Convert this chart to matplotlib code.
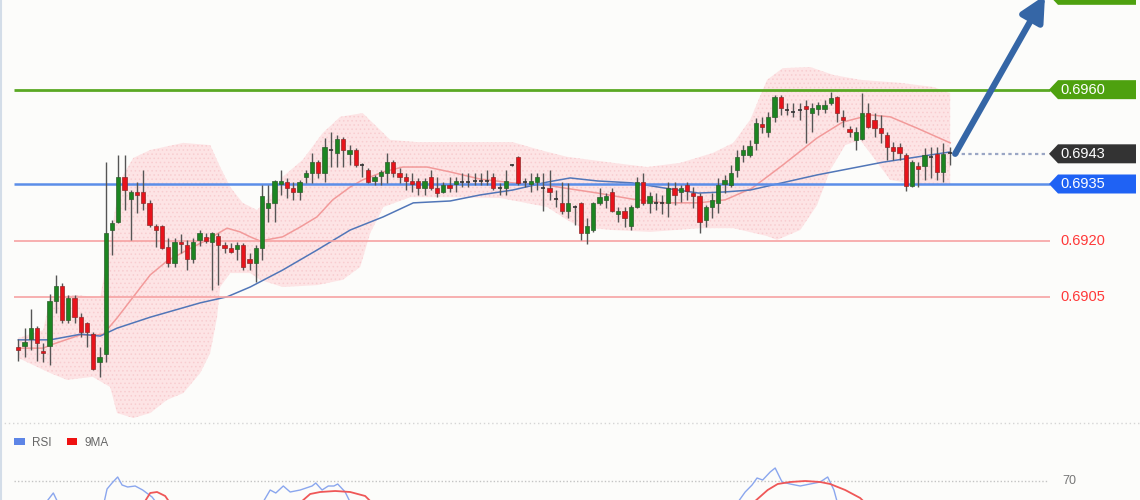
import matplotlib
matplotlib.use("Agg")
import matplotlib.pyplot as plt
import matplotlib.transforms as mtransforms
from matplotlib.patches import Polygon, Patch
from matplotlib.lines import Line2D
import numpy as np

# candles (price)
opens = [0.68918, 0.68921, 0.68939, 0.68968, 0.68907, 0.68921, 0.69040, 0.69080, 0.68990, 0.69048,
         0.68998, 0.68982, 0.68953, 0.68878, 0.68900, 0.69228, 0.69249, 0.69369, 0.69310, 0.69329,
         0.69329, 0.69300, 0.69239, 0.69239, 0.69183, 0.69140, 0.69196, 0.69188, 0.69151, 0.69202,
         0.69210, 0.69196, 0.69212, 0.69188, 0.69180, 0.69178, 0.69188, 0.69151, 0.69140, 0.69180,
         0.69286, 0.69300, 0.69350, 0.69355, 0.69339, 0.69329, 0.69369, 0.69379, 0.69408, 0.69379,
         0.69440, 0.69432, 0.69469, 0.69429, 0.69440, 0.69400, 0.69387, 0.69358, 0.69371, 0.69379,
         0.69408, 0.69379, 0.69369, 0.69358, 0.69358, 0.69339, 0.69369, 0.69339, 0.69329, 0.69347,
         0.69350, 0.69355, 0.69355, 0.69358, 0.69358, 0.69358, 0.69369, 0.69339, 0.69339, 0.69400,
         0.69422, 0.69355, 0.69350, 0.69355, 0.69339, 0.69339, 0.69310, 0.69300, 0.69279, 0.69289,
         0.69300, 0.69220, 0.69228, 0.69300, 0.69308, 0.69329, 0.69271, 0.69279, 0.69239, 0.69289,
         0.69355, 0.69300, 0.69300, 0.69300, 0.69300, 0.69339, 0.69329, 0.69347, 0.69326, 0.69318,
         0.69255, 0.69289, 0.69300, 0.69350, 0.69347, 0.69387, 0.69427, 0.69427, 0.69459, 0.69509,
         0.69488, 0.69527, 0.69581, 0.69546, 0.69541, 0.69546, 0.69557, 0.69538, 0.69549, 0.69549,
         0.69565, 0.69581, 0.69527, 0.69496, 0.69467, 0.69469, 0.69538, 0.69520, 0.69498, 0.69480,
         0.69448, 0.69448, 0.69427, 0.69345, 0.69398, 0.69398, 0.69422, 0.69430, 0.69382, 0.69432]
highs = [0.68939, 0.68968, 0.69019, 0.68973, 0.68929, 0.69058, 0.69109, 0.69088, 0.69056, 0.69056,
         0.69008, 0.68985, 0.68958, 0.68918, 0.69408, 0.69255, 0.69427, 0.69427, 0.69334, 0.69355,
         0.69387, 0.69308, 0.69244, 0.69241, 0.69207, 0.69207, 0.69217, 0.69202, 0.69207, 0.69228,
         0.69220, 0.69223, 0.69220, 0.69196, 0.69194, 0.69196, 0.69194, 0.69167, 0.69188, 0.69347,
         0.69347, 0.69361, 0.69387, 0.69366, 0.69355, 0.69361, 0.69387, 0.69432, 0.69414, 0.69472,
         0.69488, 0.69480, 0.69475, 0.69453, 0.69445, 0.69406, 0.69392, 0.69374, 0.69387, 0.69432,
         0.69414, 0.69392, 0.69379, 0.69379, 0.69366, 0.69366, 0.69387, 0.69369, 0.69355, 0.69369,
         0.69369, 0.69379, 0.69379, 0.69379, 0.69379, 0.69387, 0.69379, 0.69353, 0.69387, 0.69402,
         0.69424, 0.69366, 0.69379, 0.69379, 0.69379, 0.69387, 0.69334, 0.69355, 0.69353, 0.69294,
         0.69302, 0.69260, 0.69302, 0.69339, 0.69326, 0.69339, 0.69289, 0.69289, 0.69294, 0.69369,
         0.69379, 0.69329, 0.69326, 0.69321, 0.69355, 0.69355, 0.69347, 0.69355, 0.69342, 0.69326,
         0.69294, 0.69326, 0.69366, 0.69374, 0.69400, 0.69440, 0.69453, 0.69467, 0.69525, 0.69527,
         0.69541, 0.69586, 0.69586, 0.69565, 0.69565, 0.69565, 0.69573, 0.69565, 0.69568, 0.69573,
         0.69594, 0.69584, 0.69546, 0.69504, 0.69501, 0.69591, 0.69565, 0.69538, 0.69533, 0.69488,
         0.69461, 0.69459, 0.69432, 0.69414, 0.69408, 0.69445, 0.69448, 0.69448, 0.69459, 0.69448]
lows = [0.68881, 0.68892, 0.68910, 0.68881, 0.68878, 0.68870, 0.69008, 0.68982, 0.68982, 0.68982,
        0.68945, 0.68918, 0.68858, 0.68839, 0.68878, 0.69162, 0.69247, 0.69281, 0.69202, 0.69273,
        0.69281, 0.69236, 0.69183, 0.69178, 0.69130, 0.69130, 0.69167, 0.69122, 0.69140, 0.69186,
        0.69194, 0.69069, 0.69082, 0.69167, 0.69167, 0.69149, 0.69122, 0.69122, 0.69090, 0.69149,
        0.69249, 0.69249, 0.69321, 0.69313, 0.69308, 0.69308, 0.69353, 0.69353, 0.69366, 0.69355,
        0.69395, 0.69395, 0.69395, 0.69400, 0.69395, 0.69369, 0.69353, 0.69347, 0.69347, 0.69353,
        0.69369, 0.69353, 0.69334, 0.69329, 0.69321, 0.69321, 0.69334, 0.69315, 0.69326, 0.69329,
        0.69329, 0.69342, 0.69342, 0.69347, 0.69347, 0.69347, 0.69334, 0.69321, 0.69321, 0.69397,
        0.69347, 0.69342, 0.69329, 0.69334, 0.69279, 0.69308, 0.69289, 0.69271, 0.69260, 0.69241,
        0.69202, 0.69191, 0.69223, 0.69294, 0.69286, 0.69276, 0.69249, 0.69236, 0.69228, 0.69286,
        0.69294, 0.69273, 0.69281, 0.69271, 0.69262, 0.69294, 0.69302, 0.69308, 0.69286, 0.69220,
        0.69236, 0.69260, 0.69273, 0.69326, 0.69342, 0.69369, 0.69408, 0.69422, 0.69440, 0.69485,
        0.69474, 0.69514, 0.69533, 0.69533, 0.69527, 0.69520, 0.69459, 0.69488, 0.69533, 0.69538,
        0.69560, 0.69514, 0.69501, 0.69474, 0.69440, 0.69467, 0.69498, 0.69474, 0.69459, 0.69414,
        0.69414, 0.69414, 0.69331, 0.69342, 0.69342, 0.69361, 0.69366, 0.69361, 0.69355, 0.69400]
closes = [0.68910, 0.68931, 0.68968, 0.68928, 0.68902, 0.69040, 0.69080, 0.68990, 0.69048, 0.68998,
          0.68958, 0.68958, 0.68860, 0.68892, 0.69220, 0.69247, 0.69369, 0.69334, 0.69329, 0.69321,
          0.69300, 0.69241, 0.69228, 0.69180, 0.69140, 0.69196, 0.69191, 0.69151, 0.69196, 0.69220,
          0.69199, 0.69220, 0.69188, 0.69180, 0.69170, 0.69188, 0.69130, 0.69140, 0.69180, 0.69318,
          0.69300, 0.69358, 0.69358, 0.69339, 0.69329, 0.69355, 0.69379, 0.69408, 0.69379, 0.69448,
          0.69437, 0.69469, 0.69440, 0.69440, 0.69400, 0.69397, 0.69355, 0.69369, 0.69382, 0.69408,
          0.69379, 0.69369, 0.69358, 0.69350, 0.69339, 0.69358, 0.69339, 0.69326, 0.69347, 0.69339,
          0.69358, 0.69353, 0.69353, 0.69356, 0.69356, 0.69356, 0.69339, 0.69337, 0.69358, 0.69398,
          0.69353, 0.69353, 0.69358, 0.69369, 0.69337, 0.69329, 0.69308, 0.69279, 0.69300, 0.69287,
          0.69220, 0.69239, 0.69300, 0.69315, 0.69318, 0.69279, 0.69279, 0.69260, 0.69289, 0.69355,
          0.69300, 0.69318, 0.69298, 0.69298, 0.69339, 0.69321, 0.69339, 0.69331, 0.69318, 0.69249,
          0.69289, 0.69308, 0.69347, 0.69361, 0.69379, 0.69422, 0.69440, 0.69451, 0.69512, 0.69501,
          0.69527, 0.69581, 0.69552, 0.69544, 0.69538, 0.69544, 0.69549, 0.69552, 0.69560, 0.69560,
          0.69578, 0.69538, 0.69520, 0.69488, 0.69488, 0.69538, 0.69501, 0.69498, 0.69485, 0.69448,
          0.69437, 0.69432, 0.69345, 0.69408, 0.69390, 0.69427, 0.69420, 0.69382, 0.69430, 0.69430]

# indicator lines: (candle index, price)
ma_fast_idx = [0, 4.0, 5.1, 9.9, 12.6, 13.6, 15.8, 18.4, 21.1, 23.8, 27.0, 30.2, 33.4, 35.5, 37.1,
               38.7, 42.3, 45.1, 47.8, 50.3, 53.1, 55.1, 58.4, 61.5, 65.4, 69.1, 73.9, 79.1, 84.6,
               87.5, 92.7, 98.2, 103.5, 108.8, 113.1, 117.4, 122.3, 127.8, 131.9, 136.3, 139.5,
               143.8, 149.1]
ma_fast_val = [0.68915, 0.68915, 0.68923, 0.68950, 0.68950, 0.68952, 0.68995, 0.69051, 0.69109,
               0.69146, 0.69175, 0.69202, 0.69233, 0.69223, 0.69210, 0.69199, 0.69210, 0.69236,
               0.69263, 0.69308, 0.69342, 0.69361, 0.69382, 0.69395, 0.69395, 0.69382, 0.69363,
               0.69353, 0.69347, 0.69339, 0.69326, 0.69310, 0.69300, 0.69300, 0.69308, 0.69339,
               0.69400, 0.69472, 0.69514, 0.69533, 0.69528, 0.69498, 0.69459]
ma_slow_idx = [0, 5.1, 10.0, 13.1, 15.8, 21.1, 29.1, 33.4, 37.1, 42.3, 47.8, 53.1, 58.4, 63.2,
               69.1, 73.9, 79.1, 84.6, 88.3, 92.7, 98.2, 103.5, 108.8, 113.1, 117.1, 127.8, 138.4,
               149.1]
ma_slow_val = [0.68937, 0.68937, 0.68952, 0.68947, 0.68968, 0.68997, 0.69035, 0.69051, 0.69077,
               0.69122, 0.69175, 0.69228, 0.69263, 0.69300, 0.69305, 0.69321, 0.69334, 0.69355,
               0.69366, 0.69358, 0.69353, 0.69339, 0.69326, 0.69329, 0.69334, 0.69374, 0.69408,
               0.69435]
bb_up_idx = [0, 4.0, 5.1, 9.4, 13.1, 14.7, 16.3, 18.4, 21.1, 26.4, 30.7, 32.3, 33.9, 35.9, 38.2,
             39.8, 42.3, 45.5, 48.7, 51.5, 55.1, 57.4, 59.5, 63.8, 69.1, 79.1, 83.5, 87.8, 95.2,
             100.6, 105.9, 111.1, 114.4, 117.1, 119.8, 122.3, 126.7, 130.4, 134.7, 141.1, 146.4,
             149.1]
bb_up_val = [0.68942, 0.68963, 0.69051, 0.69056, 0.69048, 0.69202, 0.69361, 0.69419, 0.69440,
             0.69459, 0.69453, 0.69395, 0.69342, 0.69300, 0.69281, 0.69308, 0.69369, 0.69414,
             0.69485, 0.69528, 0.69538, 0.69501, 0.69467, 0.69461, 0.69461, 0.69461, 0.69440,
             0.69422, 0.69406, 0.69395, 0.69406, 0.69432, 0.69459, 0.69520, 0.69626, 0.69657,
             0.69660, 0.69639, 0.69626, 0.69618, 0.69607, 0.69591]
bb_lo_idx = [0, 5.1, 7.8, 11.9, 14.7, 15.8, 18.4, 21.1, 23.8, 26.4, 29.1, 30.7, 31.8, 32.3, 33.9,
             37.1, 38.7, 42.3, 47.8, 51.9, 54.7, 56.3, 58.4, 62.7, 69.1, 77.1, 84.6, 87.8, 89.9,
             95.2, 101.1, 109.1, 114.4, 119.8, 121.4, 125.1, 127.8, 129.9, 132.3, 134.7, 137.1,
             139.5, 144.3, 149.1]
bb_lo_val = [0.68889, 0.68849, 0.68831, 0.68839, 0.68812, 0.68743, 0.68730, 0.68743, 0.68778,
             0.68796, 0.68849, 0.68902, 0.68997, 0.69077, 0.69114, 0.69114, 0.69096, 0.69077,
             0.69082, 0.69096, 0.69130, 0.69220, 0.69289, 0.69315, 0.69315, 0.69313, 0.69289,
             0.69255, 0.69236, 0.69228, 0.69223, 0.69233, 0.69233, 0.69212, 0.69202, 0.69228,
             0.69294, 0.69387, 0.69453, 0.69467, 0.69414, 0.69361, 0.69347, 0.69347]

# RSI panel (only the top of it is visible), nan = gap
nan = float("nan")
rsi_idx = [4.0, 5.6, 6.6, nan,
           13.6, 14.2, 15.0, 15.9, 16.6, 17.5, 18.7, 19.9, 21.4, 22.5, nan,
           38.8, 40.3, 41.2, 42.4, 43.5, 45.1, 47.0, 47.6, 48.6, 49.6, 50.5, 51.1, 52.3, 53.4, nan,
           114.7, 116.3, 117.4, 118.2, 119.1, 120.3, 121.1, 122.2, 123.5, 125.1, 126.7, 128.3,
           129.5, 130.5, 131.2]
rsi_val = [55, 62.8, 55, nan,
           55, 65.2, 68.8, 72.4, 67.6, 66.4, 67.0, 64.6, 60.4, 55, nan,
           55, 64.6, 62.8, 67.0, 63.4, 64.6, 67.0, 68.8, 64.6, 67.0, 67.0, 68.2, 63.4, 55, nan,
           55, 63.4, 67.6, 71.8, 70.6, 75.4, 77.8, 69.4, 68.2, 67.0, 68.2, 69.4, 72.4, 64.6, 55]
rsi_ma_idx = [19.8, 21.1, 22.2, 23.5, 24.6, nan,
              44.5, 46.7, 48.3, 50.7, 53.1, 55.5, 57.1, nan,
              117.0, 119.9, 121.5, 123.5, 125.9, 128.3, 129.9, 132.3, 134.7, 136.0]
rsi_ma_val = [55, 62.8, 63.4, 61.0, 55, nan,
              55, 62.2, 63.4, 64.0, 63.4, 61.0, 55, nan,
              55, 64.6, 68.2, 69.4, 70.0, 69.4, 68.2, 64.6, 59.8, 55]

support_levels = [0.6935, 0.6920, 0.6905]
resistance_levels = [0.6960, 0.6985]
last_price = 0.6943

# ---- layout (pixel based, 1140x500) ----
W, H = 1140, 500
x0, step = 18.3, 6.25          # first candle centre and candle spacing in px
px_per_price = 1 / 0.0000265
y_top_price = 0.698376          # price at top edge of the image
main_h = 425

bg = "#fcfcfa"
plt.rcParams["font.family"] = ["Liberation Sans", "DejaVu Sans"]
plt.rcParams["hatch.linewidth"] = 0.6
plt.rcParams["hatch.color"] = "#f8c9cc"

fig = plt.figure(figsize=(W / 100, H / 100), dpi=100, facecolor=bg)
ax = fig.add_axes([0, (H - main_h) / H, 1, main_h / H])
ax.set_xlim(-x0 / step, (W - x0) / step)
ax.set_ylim(y_top_price - main_h / px_per_price, y_top_price)
ax.axis("off")

def px2idx(px):
    return (px - x0) / step

# bollinger band
band_x = list(bb_up_idx) + list(bb_lo_idx[::-1])
band_y = list(bb_up_val) + list(bb_lo_val[::-1])
ax.fill(band_x, band_y, facecolor="#fde4e5", edgecolor="#f8cdd0", hatch="....",
        linewidth=0, zorder=1)

# moving averages
ax.plot(ma_fast_idx, ma_fast_val, color="#f29a9a", lw=1.1, zorder=2)
ax.plot(ma_slow_idx, ma_slow_val, color="#5176b8", lw=1.1, zorder=2)

# level lines
lx0, lx1 = px2idx(14), px2idx(1050)
ax.hlines(resistance_levels[0], lx0, lx1, color="#5aa823", lw=2, zorder=2.5)
ax.hlines(support_levels[0], lx0, lx1, color="#5b8ee8", lw=1.8, zorder=2.5)
for lv in support_levels[1:]:
    ax.hlines(lv, lx0, lx1, color="#f6a3a3", lw=1.2, zorder=2.5)
n = len(closes)
ax.hlines(last_price, px2idx(955), px2idx(1048), color="#9aa6c4", lw=1.6,
          linestyles=(0, (1.5, 1.5)), zorder=2.5)

# candles
idx = np.arange(n)
ax.vlines(idx, lows, highs, color="#555555", lw=1, zorder=3)
for i in range(n):
    o, c = opens[i], closes[i]
    if abs(c - o) < 0.00003:
        ax.hlines(o, i - 0.32, i + 0.32, color="#333333", lw=1.2, zorder=4)
        continue
    col = "#1c8521" if c > o else "#e8131b"
    ec = "#2e5d2e" if c > o else "#8f2a2a"
    ax.bar(i, abs(c - o), bottom=min(o, c), width=0.66, color=col, edgecolor=ec,
           linewidth=0.5, zorder=4)

# price tags on the right
tr = mtransforms.blended_transform_factory(ax.transAxes, ax.transData)
half = 9.5 / px_per_price

def tag(level, face, text=None, txtcolor="white"):
    xs = [1049 / W, 1058 / W, 1136 / W, 1136 / W, 1058 / W]
    ys = [level, level + half, level + half, level - half, level - half]
    ax.add_patch(Polygon(list(zip(xs, ys)), closed=True, facecolor=face, edgecolor="none",
                         transform=tr, clip_on=False, zorder=6))
    if text:
        ax.text(1060 / W, level, text, transform=tr, color=txtcolor, fontsize=10.5,
                va="center", ha="left", clip_on=False, zorder=7)

tag(resistance_levels[1], "#4ea10f")          # target tag, text above the frame
tag(resistance_levels[0], "#4ea10f", "0.6960")
tag(last_price, "#333333", "0.6943")
tag(support_levels[0], "#1f62f4", "0.6935")
for lv in support_levels[1:]:
    ax.text(1060 / W, lv, f"{lv:.4f}", transform=tr, color="#ff3838", fontsize=10.5,
            va="center", ha="left")

# forecast arrow
ax.annotate("", xy=(px2idx(1045), resistance_levels[1]), xytext=(n - 1 + 0.9, last_price),
            arrowprops=dict(arrowstyle="-|>,head_length=1.0,head_width=0.5", lw=4.5,
                            color="#3566a6", shrinkA=0, shrinkB=0, mutation_scale=15),
            annotation_clip=False, zorder=8)

# separators
fig.add_artist(Line2D([0, 1], [(H - 423) / H] * 2, color="#d5d5d5", lw=1,
                      linestyle=(0, (1, 2))))
fig.add_artist(Line2D([0.8 / W, 0.8 / W], [0, 1], color="#d3dde8", lw=1.5))

# RSI panel
ax2 = fig.add_axes([0, 0, 1, (H - main_h) / H])
ax2.set_xlim(ax.get_xlim())
s = 0.6
ax2.set_ylim(70 - 19 * s, 70 + 56 * s)
ax2.axis("off")
ax2.hlines(70, lx0, px2idx(1047), color="#c4c4c4", lw=1, linestyles=(0, (1, 1.5)))
ax2.text(1062 / W, 70, "70", transform=mtransforms.blended_transform_factory(ax2.transAxes,
         ax2.transData), color="#777777", fontsize=9, va="center")
ax2.plot(rsi_idx, rsi_val, color="#8aa6ee", lw=1)
ax2.plot(rsi_ma_idx, rsi_ma_val, color="#ef5757", lw=1.3)
handles = [Patch(facecolor="#5d85e6", edgecolor="none"), Patch(facecolor="#ee1111", edgecolor="none")]
ax2.legend(handles, ["RSI", "9MA"], loc="upper left", bbox_to_anchor=(14 / W, 1 - 12 / 75),
           ncol=2, frameon=False, fontsize=8.5, labelcolor="#666666", handlelength=0.9,
           handleheight=0.55, columnspacing=1.3, handletextpad=0.6, borderaxespad=0,
           borderpad=0)

fig.savefig("out.png", dpi=100, facecolor=bg)
